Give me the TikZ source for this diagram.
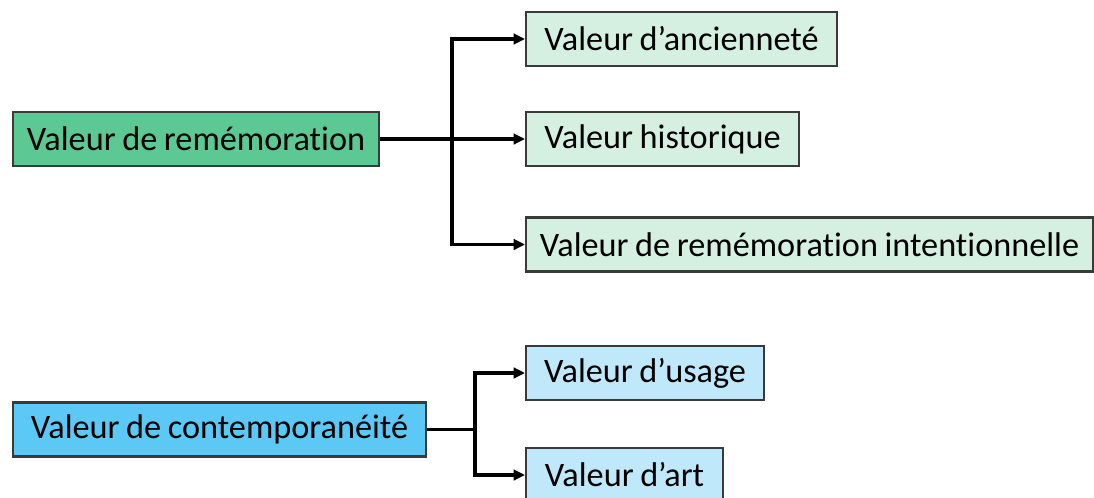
\documentclass[tikz,border=0pt]{standalone}
\usepackage{fontspec}
\setmainfont{Carlito}[Ligatures=NoCommon,WordSpace=0.85]
\usetikzlibrary{arrows.meta}

\definecolor{remdark}{HTML}{5CC893}
\definecolor{remlight}{HTML}{D5F0E1}
\definecolor{condark}{HTML}{5BC8F5}
\definecolor{conlight}{HTML}{BFE8FB}
\definecolor{boxline}{HTML}{3A3A3A}

\begin{document}
\begin{tikzpicture}[x=0.02cm,y=-0.02cm,
    valbox/.style={draw=boxline,line width=1.2pt,minimum height=1.08cm,
      inner xsep=0.26cm,anchor=west,
      font=\fontsize{19.5}{22}\selectfont},
    link/.style={line width=2.2pt,-{Triangle[length=6.5pt,width=6pt]}},
    plain/.style={line width=2.2pt}]

        \useasboundingbox (0,0) rectangle (1094,497);

        % valeur de rememoration
        \begin{scope}[every node/.style={valbox}]
          \node[fill=remdark,minimum width=7.32cm]   (rem)  at (12,139)  {Valeur de remémoration};
          \node[fill=remlight,minimum width=6.22cm]  (anc)  at (525,39)  {Valeur d’ancienneté};
          \node[fill=remlight,minimum width=5.46cm]  (hist) at (525,139) {Valeur historique};
          \node[fill=remlight,minimum width=11.34cm] (intent) at (525,244.5) {Valeur de remémoration intentionnelle};
        \end{scope}

        % valeur de contemporaneite
        \begin{scope}[every node/.style={valbox}]
          \node[fill=condark,minimum width=8.26cm]  (con)   at (12,429.5) {Valeur de contemporanéité};
          \node[fill=conlight,minimum width=4.76cm] (usage) at (525,373)   {Valeur d’usage};
          \node[fill=conlight,minimum width=3.94cm] (art)   at (525,475)   {Valeur d’art};
        \end{scope}

        \coordinate (remfork) at (452,139);
        \coordinate (confork) at (475,429.5);

        \draw[link] (rem) -- (hist);
        \draw[link] (remfork) |- (anc);
        \draw[link] (remfork) |- (intent);

        \draw[plain] (con) -- (confork);
        \draw[link] (confork) |- (usage);
        \draw[link] (confork) |- (art);

\end{tikzpicture}
\end{document}
